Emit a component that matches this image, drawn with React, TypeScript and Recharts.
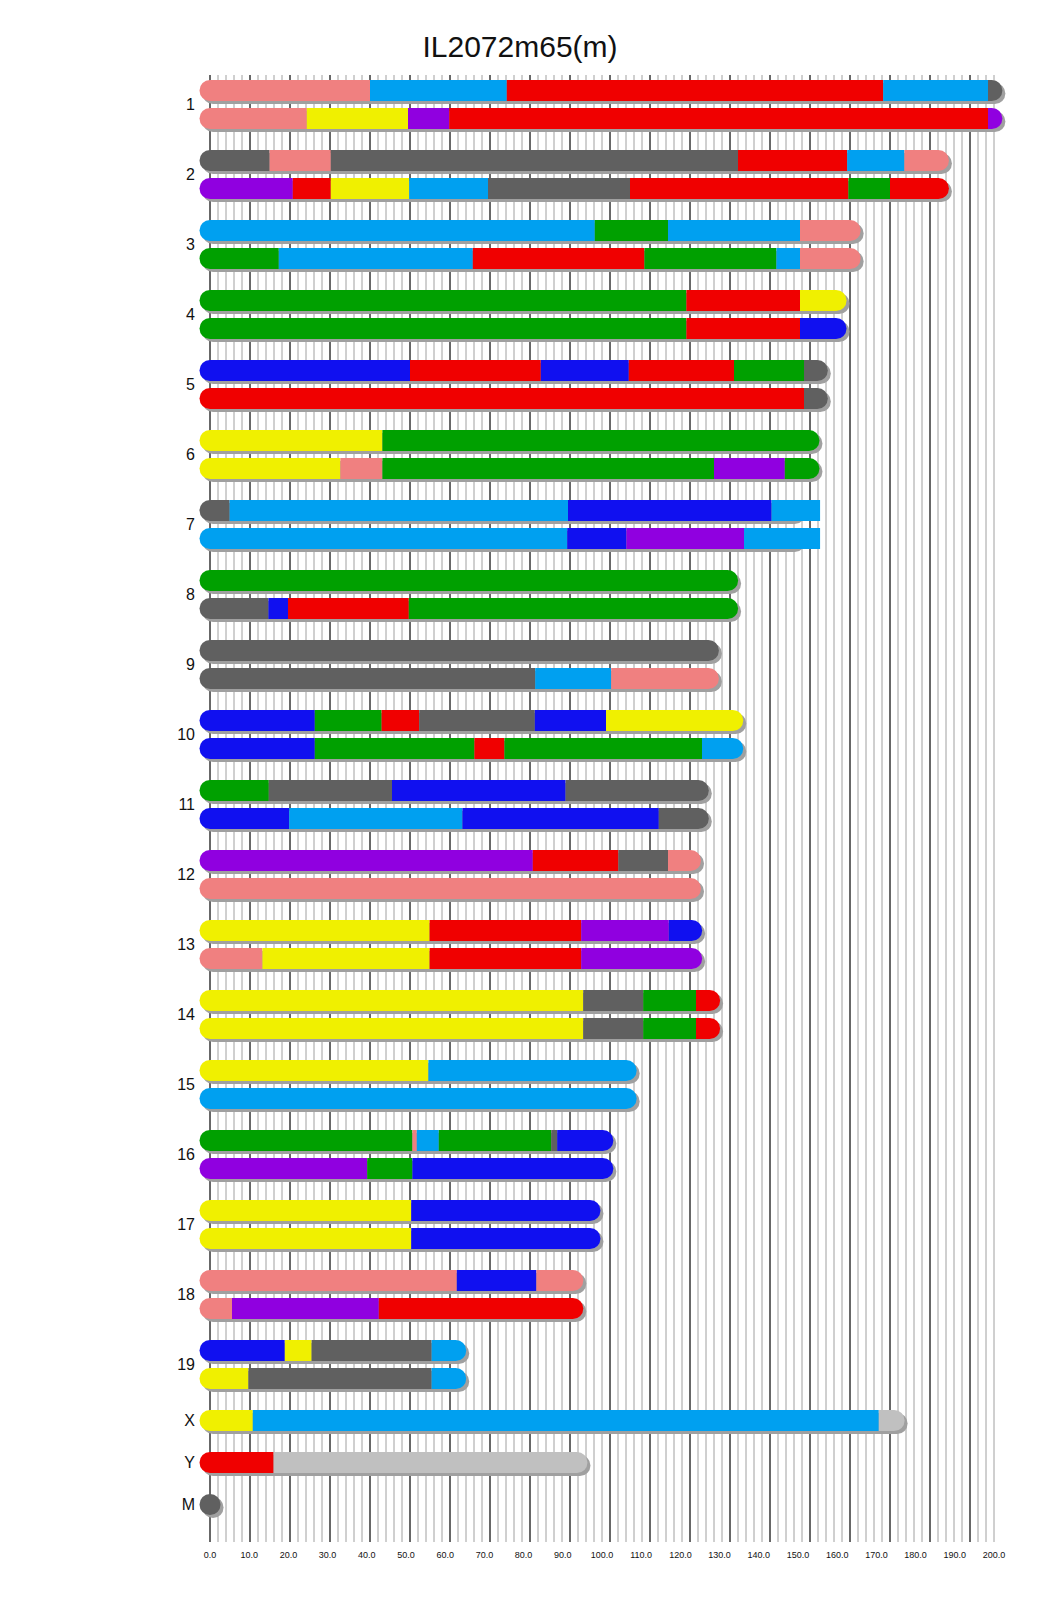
import React from "react";
import { BarChart, Bar, XAxis, YAxis, CartesianGrid } from "recharts";

// colour codes used in the segment lists
const COLORS: Record<string, string> = {
  S: "#f08080", // salmon
  B: "#00a0f0", // light blue
  R: "#f00000", // red
  G: "#606060", // dark grey
  Y: "#f0f000", // yellow
  P: "#9000e0", // purple
  N: "#00a000", // green
  D: "#1010f0", // blue
  L: "#c0c0c0", // light grey
};

const chrNames = ["1", "2", "3", "4", "5", "6", "7", "8", "9", "10", "11", "12", "13", "14", "15", "16", "17", "18", "19", "X", "Y", "M"];
const chrLengths = [195.47, 182.11, 160.04, 156.51, 151.83, 149.74, 145.44, 129.4, 124.6, 130.69, 122.08, 120.13, 120.42, 124.9, 104.04, 98.21, 94.99, 90.7, 61.43, 171.03, 91.74, 0.016];

type Seg = [number, string]; // [segment end (Mb), colour code]

const chr1A: Seg[] = [[40.0, "S"], [74.2, "B"], [168.3, "R"], [194.5, "B"], [195.47, "G"]];
const chr1B: Seg[] = [[24.2, "S"], [49.5, "Y"], [59.8, "P"], [194.5, "R"], [195.47, "P"]];
const chr2A: Seg[] = [[14.9, "G"], [30.2, "S"], [132.0, "G"], [159.3, "R"], [173.6, "B"], [182.11, "S"]];
const chr2B: Seg[] = [[20.7, "P"], [30.2, "R"], [49.8, "Y"], [69.5, "B"], [105.0, "G"], [159.6, "R"], [170.0, "N"], [182.11, "R"]];
const chr3A: Seg[] = [[96.2, "B"], [114.5, "N"], [147.5, "B"], [160.04, "S"]];
const chr3B: Seg[] = [[17.2, "N"], [65.7, "B"], [108.6, "R"], [141.6, "N"], [147.5, "B"], [160.04, "S"]];
const chr4A: Seg[] = [[119.1, "N"], [147.5, "R"], [156.51, "Y"]];
const chr4B: Seg[] = [[119.1, "N"], [147.5, "R"], [156.51, "D"]];
const chr5A: Seg[] = [[50.0, "D"], [82.7, "R"], [104.7, "D"], [131.0, "R"], [148.5, "N"], [151.83, "G"]];
const chr5B: Seg[] = [[148.5, "R"], [151.83, "G"]];
const chr6A: Seg[] = [[43.1, "Y"], [149.74, "N"]];
const chr6B: Seg[] = [[32.6, "Y"], [43.1, "S"], [126.0, "N"], [143.7, "P"], [149.74, "N"]];
const chr7A: Seg[] = [[4.9, "G"], [89.5, "B"], [140.4, "D"], [152.52, "B"]];
const chr7B: Seg[] = [[89.3, "B"], [104.1, "D"], [133.5, "P"], [152.52, "B"]];
const chr8A: Seg[] = [[129.4, "N"]];
const chr8B: Seg[] = [[14.6, "G"], [19.5, "D"], [49.7, "R"], [129.4, "N"]];
const chr9A: Seg[] = [[124.6, "G"]];
const chr9B: Seg[] = [[81.3, "G"], [100.3, "B"], [124.6, "S"]];
const chr10A: Seg[] = [[26.2, "D"], [42.9, "N"], [52.3, "R"], [81.2, "G"], [99.0, "D"], [130.69, "Y"]];
const chr10B: Seg[] = [[26.2, "D"], [66.1, "N"], [73.6, "R"], [123.0, "N"], [130.69, "B"]];
const chr11A: Seg[] = [[14.7, "N"], [45.5, "G"], [88.9, "D"], [122.08, "G"]];
const chr11B: Seg[] = [[19.8, "D"], [63.1, "B"], [112.2, "D"], [122.08, "G"]];
const chr12A: Seg[] = [[80.7, "P"], [102.1, "R"], [114.5, "G"], [120.13, "S"]];
const chr12B: Seg[] = [[120.13, "S"]];
const chr13A: Seg[] = [[54.9, "Y"], [92.8, "R"], [114.7, "P"], [120.42, "D"]];
const chr13B: Seg[] = [[13.1, "S"], [54.9, "Y"], [92.8, "R"], [120.42, "P"]];
const chr14A: Seg[] = [[93.3, "Y"], [108.3, "G"], [121.5, "N"], [124.9, "R"]];
const chr14B: Seg[] = [[93.3, "Y"], [108.3, "G"], [121.5, "N"], [124.9, "R"]];
const chr15A: Seg[] = [[54.6, "Y"], [104.04, "B"]];
const chr15B: Seg[] = [[104.04, "B"]];
const chr16A: Seg[] = [[50.6, "N"], [51.7, "S"], [57.2, "B"], [85.3, "N"], [86.8, "G"], [98.21, "D"]];
const chr16B: Seg[] = [[39.3, "P"], [50.6, "N"], [98.21, "D"]];
const chr17A: Seg[] = [[50.3, "Y"], [94.99, "D"]];
const chr17B: Seg[] = [[50.3, "Y"], [94.99, "D"]];
const chr18A: Seg[] = [[61.7, "S"], [81.6, "D"], [90.7, "S"]];
const chr18B: Seg[] = [[5.5, "S"], [42.2, "P"], [90.7, "R"]];
const chr19A: Seg[] = [[18.7, "D"], [25.4, "Y"], [55.4, "G"], [61.43, "B"]];
const chr19B: Seg[] = [[9.6, "Y"], [55.4, "G"], [61.43, "B"]];
const chrX: Seg[] = [[10.7, "Y"], [167.2, "B"], [171.03, "L"]];
const chrY: Seg[] = [[15.9, "R"], [91.74, "L"]];
const chrM: Seg[] = [[0.016, "G"]];

const autosomes: Seg[][][] = [
  [chr1A, chr1B], [chr2A, chr2B], [chr3A, chr3B], [chr4A, chr4B], [chr5A, chr5B],
  [chr6A, chr6B], [chr7A, chr7B], [chr8A, chr8B], [chr9A, chr9B], [chr10A, chr10B],
  [chr11A, chr11B], [chr12A, chr12B], [chr13A, chr13B], [chr14A, chr14B], [chr15A, chr15B],
  [chr16A, chr16B], [chr17A, chr17B], [chr18A, chr18B], [chr19A, chr19B],
];
const sexAndMito: Seg[][] = [chrX, chrY, chrM];

const fineTicks = Array.from({ length: 99 }, (_, i) => i * 2);
const majorTicks = Array.from({ length: 20 }, (_, i) => i * 10);
const labelTicks = Array.from({ length: 21 }, (_, i) => i * 10);

const MAX_SEGS = 8;
const BAR_H = 21;
const R = BAR_H / 2;

// one band per row; spacer bands give the pair / gap layout
type Row = Record<string, any>;
const rows: Row[] = [];
const addRow = (label: string, len?: number, segs?: Seg[]) => {
  const row: Row = { key: `r${rows.length}`, label };
  if (segs && len != null) {
    row.len = len;
    row.n = segs.length;
    let start = 0;
    segs.forEach(([end, c], k) => {
      row[`s${k}`] = end - start;
      row[`c${k}`] = c;
      start = end;
    });
    row.closed = Math.abs(start - len) < 0.01;
  }
  rows.push(row);
};
autosomes.forEach(([a, b], i) => {
  addRow("", chrLengths[i], a);
  addRow(chrNames[i]);
  addRow("", chrLengths[i], b);
  addRow("");
  addRow("");
});
sexAndMito.forEach((segs, j) => {
  addRow(chrNames[19 + j], chrLengths[19 + j], segs);
  if (j < sexAndMito.length - 1) {
    addRow("");
    addRow("");
  }
});
const labelOf: Record<string, string> = {};
rows.forEach((r) => (labelOf[r.key] = r.label));

const segShape = (k: number) => (props: any) => {
  const { x, y, width, height, payload } = props;
  if (payload == null || payload.n == null || k >= payload.n) return <g />;
  const cy = y + height / 2;
  const t = cy - R;
  const b = cy + R;
  const x0 = x;
  const x1 = x + width;
  const left = k === 0;
  const right = k === payload.n - 1 && payload.closed;
  const fill = COLORS[payload[`c${k}`]];
  let d: string;
  if (left && right) {
    d = `M${x0},${t} L${x1},${t} A${R},${R} 0 0 1 ${x1},${b} L${x0},${b} A${R},${R} 0 0 1 ${x0},${t} Z`;
  } else if (left) {
    d = `M${x0},${t} L${x1},${t} L${x1},${b} L${x0},${b} A${R},${R} 0 0 1 ${x0},${t} Z`;
  } else if (right) {
    d = `M${x0},${t} L${x1},${t} A${R},${R} 0 0 1 ${x1},${b} L${x0},${b} Z`;
  } else {
    d = `M${x0},${t} L${x1},${t} L${x1},${b} L${x0},${b} Z`;
  }
  return <path d={d} fill={fill} />;
};

const shadowShape = (props: any) => {
  const { x, y, width, height, payload } = props;
  if (payload == null || payload.len == null) return <g />;
  const cy = y + height / 2 + 3;
  return (
    <rect x={x + 3 - R} y={cy - R} width={width + 2 * R} height={BAR_H} rx={R} ry={R} fill="#a0a0a0" />
  );
};

const FONT = "'Liberation Sans', Arial, sans-serif";

const ChrTick = (props: any) => {
  const { x, y, payload } = props;
  const text = labelOf[payload?.value];
  if (!text) return <g />;
  return (
    <text x={x} y={y} dy="0.36em" textAnchor="end" fontSize={16} fontFamily={FONT} fill="#111">
      {text}
    </text>
  );
};

const MbTick = (props: any) => {
  const { x, y, payload } = props;
  return (
    <text x={x} y={y} dy="0.71em" textAnchor="middle" fontSize={9} fontFamily={FONT} fill="#111">
      {Number(payload?.value).toFixed(1)}
    </text>
  );
};

export default function App() {
  return (
    <div style={{ position: "absolute", left: 0, top: 0, width: 1040, height: 1616, background: "#fff", fontFamily: FONT }}>
      <div style={{ position: "absolute", left: 0, top: 30, width: 1040, textAlign: "center", fontSize: 30, color: "#111" }}>
        IL2072m65(m)
      </div>
      <BarChart
        width={1040}
        height={1616}
        data={rows}
        layout="vertical"
        margin={{ top: 75, right: 46, left: 150, bottom: 44 }}
        barCategoryGap={0}
      >
        <XAxis xAxisId="fine" orientation="top" type="number" domain={[0, 196]} ticks={fineTicks} interval={0} hide />
        <XAxis
          xAxisId="major"
          orientation="top"
          type="number"
          domain={[0, 196]}
          ticks={majorTicks}
          interval={0}
          allowDataOverflow
          hide
        />
        <XAxis
          xAxisId="label"
          type="number"
          domain={[0, 200]}
          ticks={labelTicks}
          interval={0}
          allowDataOverflow
          axisLine={false}
          tickLine={false}
          tickSize={0}
          tickMargin={10}
          height={30}
          tick={<MbTick />}
        />
        <YAxis
          yAxisId="main"
          type="category"
          dataKey="key"
          width={60}
          interval={0}
          padding={{ top: 8.5, bottom: 30.5 }}
          axisLine={false}
          tickLine={false}
          tickSize={0}
          tickMargin={15}
          tick={<ChrTick />}
        />
        <YAxis yAxisId="shadow" type="category" dataKey="key" padding={{ top: 8.5, bottom: 30.5 }} hide />
        <CartesianGrid xAxisId="fine" yAxisId="main" horizontal={false} stroke="#a0a0a0" />
        <CartesianGrid xAxisId="major" yAxisId="main" horizontal={false} syncWithTicks stroke="#000" />
        <Bar xAxisId="fine" yAxisId="shadow" dataKey="len" shape={shadowShape} isAnimationActive={false} />
        {Array.from({ length: MAX_SEGS }, (_, k) => (
          <Bar
            key={k}
            xAxisId="fine"
            yAxisId="main"
            dataKey={`s${k}`}
            stackId="chr"
            shape={segShape(k)}
            isAnimationActive={false}
          />
        ))}
      </BarChart>
    </div>
  );
}
